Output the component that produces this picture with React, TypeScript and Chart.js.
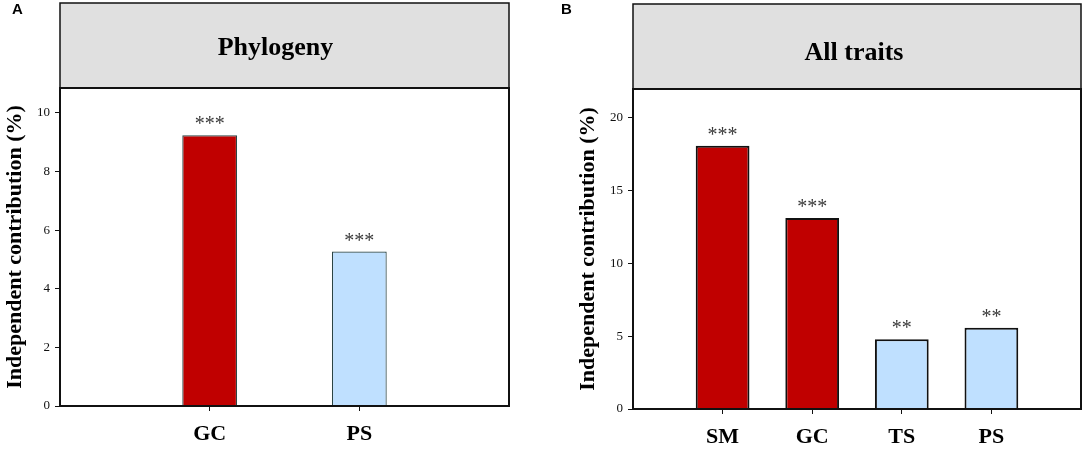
import React, { useEffect, useRef } from 'react';
import { Chart, registerables } from 'chart.js';

Chart.register(...registerables);

// panel A: phylogeny
const phyloCategories = ['GC', 'PS'];
const phyloValues = [9.24, 5.27];
const phyloStars = ['***', '***'];
const phyloTicks = [0, 2, 4, 6, 8, 10];

// panel B: all traits
const traitCategories = ['SM', 'GC', 'TS', 'PS'];
const traitValues = [18.05, 13.1, 4.78, 5.58];
const traitStars = ['***', '***', '**', '**'];
const traitTicks = [0, 5, 10, 15, 20];

const RED = '#c00000';
const BLUE = '#bfe0ff';
const SERIF = '"Liberation Serif", "Times New Roman", serif';

const phyloFill = [RED, BLUE];
const traitFill = [RED, RED, BLUE, BLUE];

interface PanelProps {
  title: string;
  categories: string[];
  values: number[];
  stars: string[];
  ticks: number[];
  fills: string[];
  yMax: number;
  width: number;
  padLeft: number;
  padRight: number;
  padTop: number;
  headerTop: number;
  titleBaseline: number;
  titleShift: number;
  axisHeight: number;
  barPct: number;
  barBorder: string;
  barBorderWidth: number;
}

const Panel: React.FC<PanelProps> = (p) => {
  const canvasRef = useRef<HTMLCanvasElement>(null);

  useEffect(() => {
    if (!canvasRef.current) return;
    const ctx = canvasRef.current.getContext('2d');
    if (!ctx) return;

    // empty slots on both ends so the bars sit inside the frame
    const labels = ['', ...p.categories, ''];
    const data = [null, ...p.values, null];
    const fills = ['', ...p.fills, ''];
    const stars = ['', ...p.stars, ''];

    const panelPlugin = {
      id: 'panelFrame',
      beforeDraw(chart: Chart) {
        const { ctx: c, chartArea: a } = chart;
        c.save();
        c.fillStyle = '#e0e0e0';
        c.fillRect(a.left, p.headerTop, a.right - a.left, a.top - p.headerTop);
        c.strokeStyle = '#111';
        c.lineWidth = 1.5;
        c.strokeRect(a.left, p.headerTop, a.right - a.left, a.top - p.headerTop);
        c.fillStyle = '#000';
        c.font = `bold 26px ${SERIF}`;
        c.textAlign = 'center';
        c.textBaseline = 'alphabetic';
        c.fillText(p.title, (a.left + a.right) / 2 + p.titleShift, p.titleBaseline);
        c.restore();
      },
      afterDatasetsDraw(chart: Chart) {
        const { ctx: c, chartArea: a } = chart;
        const meta = chart.getDatasetMeta(0);
        c.save();
        c.fillStyle = '#3a3a3a';
        c.font = `20px ${SERIF}`;
        c.textAlign = 'center';
        c.textBaseline = 'alphabetic';
        meta.data.forEach((el: any, i: number) => {
          if (!stars[i]) return;
          c.fillText(stars[i], el.x, el.y - 5);
        });
        c.strokeStyle = '#111';
        c.lineWidth = 2;
        c.strokeRect(a.left, a.top, a.right - a.left, a.bottom - a.top);
        c.restore();
      },
    };

    const chart = new Chart(ctx, {
      type: 'bar',
      data: {
        labels,
        datasets: [
          {
            data,
            backgroundColor: fills,
            borderColor: p.barBorder,
            borderWidth: p.barBorderWidth,
            barPercentage: p.barPct,
            categoryPercentage: 1,
          },
        ],
      },
      options: {
        responsive: false,
        animation: false,
        layout: {
          padding: { top: p.padTop, left: p.padLeft, right: p.padRight, bottom: 0 },
        },
        plugins: {
          legend: { display: false },
          tooltip: { enabled: false },
        },
        scales: {
          x: {
            offset: false,
            afterFit: (scale: any) => {
              scale.height = p.axisHeight;
              scale.paddingLeft = 0;
              scale.paddingRight = 0;
            },
            grid: {
              offset: false,
              drawOnChartArea: false,
              tickLength: 5,
              tickColor: (c: any) => (c.tick && c.tick.label ? '#111' : 'rgba(0,0,0,0)'),
            },
            border: { color: '#111', width: 2 },
            ticks: {
              color: '#000',
              padding: 10,
              font: { family: SERIF, size: 22, weight: 'bold' },
              maxRotation: 0,
              autoSkip: false,
            },
          },
          y: {
            min: 0,
            max: p.yMax,
            afterFit: (scale: any) => {
              scale.width = 60;
            },
            afterBuildTicks: (scale: any) => {
              scale.ticks = p.ticks.map((v) => ({ value: v }));
            },
            grid: { drawOnChartArea: false, tickLength: 5, tickColor: '#111' },
            border: { color: '#111', width: 2 },
            ticks: {
              color: '#111',
              padding: 5,
              font: { family: SERIF, size: 13 },
            },
            title: {
              display: true,
              text: 'Independent contribution (%)',
              color: '#000',
              padding: { top: 2, bottom: 0 },
              font: { family: SERIF, size: 22, weight: 'bold' },
            },
          },
        },
      },
      plugins: [panelPlugin],
    } as any);

    return () => {
      chart.destroy();
    };
  }, [p]);

  return <canvas ref={canvasRef} width={p.width} height={449} style={{ display: 'block' }} />;
};

const letterStyle: React.CSSProperties = {
  position: 'absolute',
  top: 0,
  fontFamily: '"Liberation Sans", Arial, sans-serif',
  fontWeight: 'bold',
  fontSize: 15,
  lineHeight: '17px',
};

const panelA: PanelProps = {
  title: 'Phylogeny',
  categories: phyloCategories,
  values: phyloValues,
  stars: phyloStars,
  ticks: phyloTicks,
  fills: phyloFill,
  yMax: 10.85,
  width: 540,
  padLeft: 0,
  padRight: 31,
  padTop: 88,
  headerTop: 3,
  titleBaseline: 55,
  titleShift: -9,
  axisHeight: 43,
  barPct: 0.366,
  barBorder: '#2b4545',
  barBorderWidth: 1.2,
};

const panelB: PanelProps = {
  title: 'All traits',
  categories: traitCategories,
  values: traitValues,
  stars: traitStars,
  ticks: traitTicks,
  fills: traitFill,
  yMax: 21.95,
  width: 544,
  padLeft: 33,
  padRight: 3,
  padTop: 89,
  headerTop: 4,
  titleBaseline: 60,
  titleShift: -3,
  axisHeight: 40,
  barPct: 0.6,
  barBorder: '#111',
  barBorderWidth: 2,
};

export default function App() {
  return (
    <div style={{ position: 'absolute', left: 0, top: 0, width: 1084, height: 449, background: '#fff' }}>
      <div style={{ position: 'absolute', left: 0, top: 0 }}>
        <Panel {...panelA} />
      </div>
      <div style={{ position: 'absolute', left: 540, top: 0 }}>
        <Panel {...panelB} />
      </div>
      <div style={{ ...letterStyle, left: 12 }}>A</div>
      <div style={{ ...letterStyle, left: 561 }}>B</div>
    </div>
  );
}
